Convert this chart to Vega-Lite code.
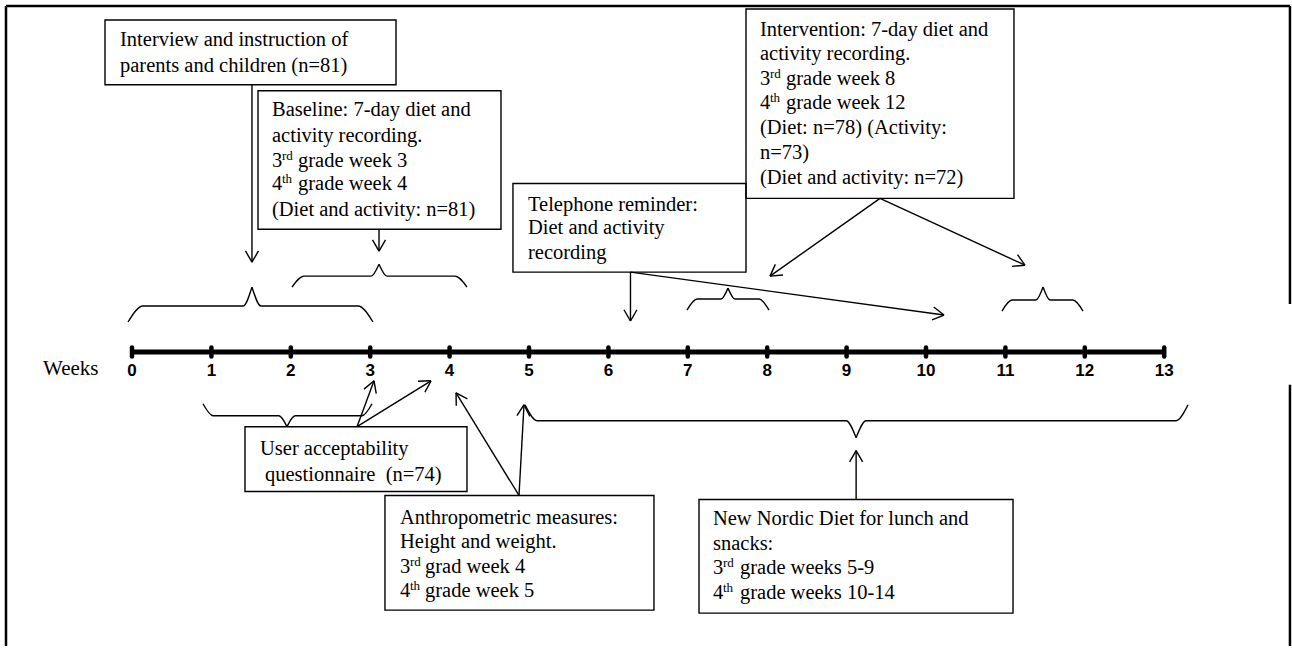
{
  "$schema": "https://vega.github.io/schema/vega-lite/v6.json",
  "width": 1292,
  "height": 648,
  "padding": 0,
  "autosize": {"type": "fit", "contains": "padding"},
  "background": "white",
  "config": {"view": {"stroke": null}},
  "datasets": {
    "boxes": [
      {"name": "interview", "x": -0.340, "x2": 3.325, "y": 20, "y2": 85},
      {"name": "baseline", "x": 1.587, "x2": 4.647, "y": 91, "y2": 230},
      {"name": "telephone", "x": 4.798, "x2": 7.733, "y": 184, "y2": 273},
      {"name": "intervention", "x": 7.733, "x2": 11.108, "y": 9, "y2": 199},
      {"name": "user", "x": 1.423, "x2": 4.219, "y": 428, "y2": 493},
      {"name": "anthropometric", "x": 3.186, "x2": 6.574, "y": 497, "y2": 612},
      {"name": "nordic", "x": 7.141, "x2": 11.096, "y": 501, "y2": 615}
    ],
    "texts": [
      {"x": -0.151, "y": 40, "t": "Interview and instruction of"},
      {"x": -0.151, "y": 66, "t": "parents and children (n=81)"},
      {"x": 1.763, "y": 110.5, "t": "Baseline: 7-day diet and"},
      {"x": 1.763, "y": 136, "t": "activity recording."},
      {"x": 1.763, "y": 161, "t": "3"},
      {"x": 2.091, "y": 161, "t": "grade week 3"},
      {"x": 1.763, "y": 185, "t": "4"},
      {"x": 2.091, "y": 185, "t": "grade week 4"},
      {"x": 1.763, "y": 210.5, "t": "(Diet and activity: n=81)"},
      {"x": 4.987, "y": 206, "t": "Telephone reminder:"},
      {"x": 4.987, "y": 229, "t": "Diet and activity"},
      {"x": 4.987, "y": 254, "t": "recording"},
      {"x": 7.909, "y": 30, "t": "Intervention: 7-day diet and"},
      {"x": 7.909, "y": 54, "t": "activity recording."},
      {"x": 7.909, "y": 79, "t": "3"},
      {"x": 8.237, "y": 79, "t": "grade week 8"},
      {"x": 7.909, "y": 103, "t": "4"},
      {"x": 8.237, "y": 103, "t": "grade week 12"},
      {"x": 7.909, "y": 128, "t": "(Diet: n=78) (Activity:"},
      {"x": 7.909, "y": 153, "t": "n=73)"},
      {"x": 7.909, "y": 179, "t": "(Diet and activity: n=72)"},
      {"x": 1.612, "y": 450, "t": "User acceptability"},
      {"x": 1.675, "y": 476, "t": "questionnaire\u00a0\u00a0(n=74)"},
      {"x": 3.375, "y": 520, "t": "Anthropometric measures:"},
      {"x": 3.375, "y": 544, "t": "Height and weight."},
      {"x": 3.375, "y": 568.5, "t": "3"},
      {"x": 3.690, "y": 568.5, "t": "grad week 4"},
      {"x": 3.375, "y": 592.5, "t": "4"},
      {"x": 3.690, "y": 592.5, "t": "grade week 5"},
      {"x": 7.317, "y": 520.5, "t": "New Nordic Diet for lunch and"},
      {"x": 7.317, "y": 545.5, "t": "snacks:"},
      {"x": 7.317, "y": 570, "t": "3"},
      {"x": 7.657, "y": 570, "t": "grade weeks 5-9"},
      {"x": 7.317, "y": 595, "t": "4"},
      {"x": 7.657, "y": 595, "t": "grade weeks 10-14"}
    ],
    "sups": [
      {"x": 1.889, "y": 156, "t": "rd"},
      {"x": 1.889, "y": 180, "t": "th"},
      {"x": 8.035, "y": 74, "t": "rd"},
      {"x": 8.035, "y": 98, "t": "th"},
      {"x": 3.501, "y": 563.5, "t": "rd"},
      {"x": 3.501, "y": 587.5, "t": "th"},
      {"x": 7.443, "y": 565, "t": "rd"},
      {"x": 7.443, "y": 590, "t": "th"}
    ],
    "segs": [
      {"x": 1.511, "y": 85, "x2": 1.511, "y2": 263},
      {"x": 1.593, "y": 251.7, "x2": 1.511, "y2": 263},
      {"x": 1.429, "y": 251.7, "x2": 1.511, "y2": 263},
      {"x": 3.111, "y": 230, "x2": 3.111, "y2": 252},
      {"x": 3.193, "y": 240.7, "x2": 3.111, "y2": 252},
      {"x": 3.029, "y": 240.7, "x2": 3.111, "y2": 252},
      {"x": 6.278, "y": 273, "x2": 6.278, "y2": 322},
      {"x": 6.360, "y": 310.7, "x2": 6.278, "y2": 322},
      {"x": 6.196, "y": 310.7, "x2": 6.278, "y2": 322},
      {"x": 6.278, "y": 273, "x2": 10.227, "y2": 316},
      {"x": 10.097, "y": 308.0, "x2": 10.227, "y2": 316},
      {"x": 10.076, "y": 320.9, "x2": 10.227, "y2": 316},
      {"x": 9.421, "y": 199, "x2": 8.035, "y2": 277},
      {"x": 8.198, "y": 275.8, "x2": 8.035, "y2": 277},
      {"x": 8.103, "y": 265.2, "x2": 8.035, "y2": 277},
      {"x": 9.421, "y": 199, "x2": 11.247, "y2": 266},
      {"x": 11.152, "y": 255.4, "x2": 11.247, "y2": 266},
      {"x": 11.083, "y": 267.2, "x2": 11.247, "y2": 266},
      {"x": 2.834, "y": 428, "x2": 3.048, "y2": 382},
      {"x": 2.922, "y": 390.3, "x2": 3.048, "y2": 382},
      {"x": 3.076, "y": 394.8, "x2": 3.048, "y2": 382},
      {"x": 2.834, "y": 428, "x2": 3.766, "y2": 382},
      {"x": 3.602, "y": 382.4, "x2": 3.766, "y2": 382},
      {"x": 3.689, "y": 393.5, "x2": 3.766, "y2": 382},
      {"x": 4.874, "y": 497, "x2": 4.081, "y2": 394},
      {"x": 4.084, "y": 407.0, "x2": 4.081, "y2": 394},
      {"x": 4.224, "y": 400.2, "x2": 4.081, "y2": 394},
      {"x": 4.874, "y": 497, "x2": 4.937, "y2": 406},
      {"x": 4.848, "y": 416.9, "x2": 4.937, "y2": 406},
      {"x": 5.011, "y": 417.6, "x2": 4.937, "y2": 406},
      {"x": 9.12, "y": 501, "x2": 9.12, "y2": 452},
      {"x": 9.038, "y": 463.3, "x2": 9.12, "y2": 452},
      {"x": 9.202, "y": 463.3, "x2": 9.12, "y2": 452}
    ],
    "frame": [
      {"x": -1.587, "y": 6, "x2": 14.584, "y2": 6},
      {"x": -1.587, "y": 6, "x2": -1.587, "y2": 648},
      {"x": 14.584, "y": 6, "x2": 14.584, "y2": 305},
      {"x": 14.584, "y": 386, "x2": 14.584, "y2": 648}
    ],
    "braces": [
      {"id": "A1", "x": 2.015, "y": 288}, {"id": "A1", "x": 2.166, "y": 277}, {"id": "A1", "x": 3.010, "y": 277}, {"id": "A1", "x": 3.111, "y": 265},
      {"id": "A2", "x": 3.111, "y": 265}, {"id": "A2", "x": 3.212, "y": 277}, {"id": "A2", "x": 4.068, "y": 277}, {"id": "A2", "x": 4.219, "y": 288},
      {"id": "B1", "x": -0.050, "y": 323}, {"id": "B1", "x": 0.139, "y": 307}, {"id": "B1", "x": 1.398, "y": 307}, {"id": "B1", "x": 1.511, "y": 288},
      {"id": "B2", "x": 1.511, "y": 288}, {"id": "B2", "x": 1.625, "y": 307}, {"id": "B2", "x": 2.846, "y": 307}, {"id": "B2", "x": 3.035, "y": 323},
      {"id": "C1", "x": 6.990, "y": 311}, {"id": "C1", "x": 7.116, "y": 300}, {"id": "C1", "x": 7.418, "y": 300}, {"id": "C1", "x": 7.506, "y": 289},
      {"id": "C2", "x": 7.506, "y": 289}, {"id": "C2", "x": 7.594, "y": 300}, {"id": "C2", "x": 7.897, "y": 300}, {"id": "C2", "x": 8.023, "y": 311},
      {"id": "D1", "x": 10.957, "y": 312}, {"id": "D1", "x": 11.083, "y": 301}, {"id": "D1", "x": 11.385, "y": 301}, {"id": "D1", "x": 11.474, "y": 288},
      {"id": "D2", "x": 11.474, "y": 288}, {"id": "D2", "x": 11.562, "y": 301}, {"id": "D2", "x": 11.851, "y": 301}, {"id": "D2", "x": 11.977, "y": 312},
      {"id": "E1", "x": 0.894, "y": 405}, {"id": "E1", "x": 1.020, "y": 417}, {"id": "E1", "x": 1.851, "y": 417}, {"id": "E1", "x": 1.952, "y": 428},
      {"id": "E2", "x": 1.952, "y": 428}, {"id": "E2", "x": 2.053, "y": 417}, {"id": "E2", "x": 2.897, "y": 417}, {"id": "E2", "x": 3.023, "y": 405},
      {"id": "F1", "x": 4.950, "y": 406}, {"id": "F1", "x": 5.101, "y": 422}, {"id": "F1", "x": 8.994, "y": 422}, {"id": "F1", "x": 9.12, "y": 439},
      {"id": "F2", "x": 9.12, "y": 439}, {"id": "F2", "x": 9.246, "y": 422}, {"id": "F2", "x": 13.149, "y": 422}, {"id": "F2", "x": 13.300, "y": 406}
    ],
    "timeline": [
      {"from": 0, "to": 13, "level": 353}
    ],
    "weeks": [
      {"week": 0, "tickTop": 348.5, "tickBottom": 357.5, "labelY": 372},
      {"week": 1, "tickTop": 348.5, "tickBottom": 357.5, "labelY": 372},
      {"week": 2, "tickTop": 348.5, "tickBottom": 357.5, "labelY": 372},
      {"week": 3, "tickTop": 348.5, "tickBottom": 357.5, "labelY": 372},
      {"week": 4, "tickTop": 348.5, "tickBottom": 357.5, "labelY": 372},
      {"week": 5, "tickTop": 348.5, "tickBottom": 357.5, "labelY": 372},
      {"week": 6, "tickTop": 348.5, "tickBottom": 357.5, "labelY": 372},
      {"week": 7, "tickTop": 348.5, "tickBottom": 357.5, "labelY": 372},
      {"week": 8, "tickTop": 348.5, "tickBottom": 357.5, "labelY": 372},
      {"week": 9, "tickTop": 348.5, "tickBottom": 357.5, "labelY": 372},
      {"week": 10, "tickTop": 348.5, "tickBottom": 357.5, "labelY": 372},
      {"week": 11, "tickTop": 348.5, "tickBottom": 357.5, "labelY": 372},
      {"week": 12, "tickTop": 348.5, "tickBottom": 357.5, "labelY": 372},
      {"week": 13, "tickTop": 348.5, "tickBottom": 357.5, "labelY": 372}
    ]
  },
  "layer": [
    {
      "data": {"name": "frame"},
      "mark": {"type": "rule", "color": "black", "strokeWidth": 2.5},
      "encoding": {
        "x": {"field": "x", "type": "quantitative", "scale": {"domain": [-1.6625, 14.6096], "nice": false, "zero": false}, "axis": null},
        "y": {"field": "y", "type": "quantitative", "scale": {"domain": [0, 648], "reverse": true, "nice": false, "zero": false}, "axis": null},
        "x2": {"field": "x2"}, "y2": {"field": "y2"}
      }
    },
    {
      "data": {"name": "boxes"},
      "mark": {"type": "rect", "fill": "white", "fillOpacity": 0, "stroke": "black", "strokeWidth": 1.4},
      "encoding": {
        "x": {"field": "x", "type": "quantitative", "scale": {"domain": [-1.6625, 14.6096], "nice": false, "zero": false}, "axis": null},
        "y": {"field": "y", "type": "quantitative", "scale": {"domain": [0, 648], "reverse": true, "nice": false, "zero": false}, "axis": null},
        "x2": {"field": "x2"}, "y2": {"field": "y2"}
      }
    },
    {
      "data": {"name": "segs"},
      "mark": {"type": "rule", "color": "black", "strokeWidth": 1.4},
      "encoding": {
        "x": {"field": "x", "type": "quantitative", "scale": {"domain": [-1.6625, 14.6096], "nice": false, "zero": false}, "axis": null},
        "y": {"field": "y", "type": "quantitative", "scale": {"domain": [0, 648], "reverse": true, "nice": false, "zero": false}, "axis": null},
        "x2": {"field": "x2"}, "y2": {"field": "y2"}
      }
    },
    {
      "data": {"name": "braces"},
      "mark": {"type": "line", "interpolate": "monotone", "color": "black", "strokeWidth": 1.4},
      "encoding": {
        "x": {"field": "x", "type": "quantitative", "scale": {"domain": [-1.6625, 14.6096], "nice": false, "zero": false}, "axis": null},
        "y": {"field": "y", "type": "quantitative", "scale": {"domain": [0, 648], "reverse": true, "nice": false, "zero": false}, "axis": null},
        "detail": {"field": "id"}
      }
    },
    {
      "data": {"name": "timeline"},
      "mark": {"type": "rule", "color": "black", "strokeWidth": 5},
      "encoding": {
        "x": {"field": "from", "type": "quantitative", "scale": {"domain": [-1.6625, 14.6096], "nice": false, "zero": false}, "axis": null},
        "x2": {"field": "to"},
        "y": {"field": "level", "type": "quantitative", "scale": {"domain": [0, 648], "reverse": true, "nice": false, "zero": false}, "axis": null}
      }
    },
    {
      "data": {"name": "weeks"},
      "mark": {"type": "rule", "color": "black", "strokeWidth": 4.5, "strokeCap": "round"},
      "encoding": {
        "x": {"field": "week", "type": "quantitative", "scale": {"domain": [-1.6625, 14.6096], "nice": false, "zero": false}, "axis": null},
        "y": {"field": "tickTop", "type": "quantitative", "scale": {"domain": [0, 648], "reverse": true, "nice": false, "zero": false}, "axis": null},
        "y2": {"field": "tickBottom"}
      }
    },
    {
      "data": {"name": "weeks"},
      "mark": {"type": "text", "font": "Liberation Sans Narrow, Liberation Sans, Arial", "fontWeight": "bold", "fontSize": 17, "align": "center", "baseline": "middle", "color": "black"},
      "encoding": {
        "x": {"field": "week", "type": "quantitative", "scale": {"domain": [-1.6625, 14.6096], "nice": false, "zero": false}, "axis": null},
        "y": {"field": "labelY", "type": "quantitative", "scale": {"domain": [0, 648], "reverse": true, "nice": false, "zero": false}, "axis": null},
        "text": {"field": "week", "type": "quantitative", "format": "d"}
      }
    },
    {
      "data": {"values": [{"x": -1.121, "y": 370, "t": "Weeks"}]},
      "mark": {"type": "text", "font": "Liberation Serif", "fontSize": 21, "align": "left", "baseline": "middle", "color": "black"},
      "encoding": {
        "x": {"field": "x", "type": "quantitative", "scale": {"domain": [-1.6625, 14.6096], "nice": false, "zero": false}, "axis": null},
        "y": {"field": "y", "type": "quantitative", "scale": {"domain": [0, 648], "reverse": true, "nice": false, "zero": false}, "axis": null},
        "text": {"field": "t"}
      }
    },
    {
      "data": {"name": "texts"},
      "mark": {"type": "text", "font": "Liberation Serif", "fontSize": 20.5, "align": "left", "baseline": "middle", "color": "black"},
      "encoding": {
        "x": {"field": "x", "type": "quantitative", "scale": {"domain": [-1.6625, 14.6096], "nice": false, "zero": false}, "axis": null},
        "y": {"field": "y", "type": "quantitative", "scale": {"domain": [0, 648], "reverse": true, "nice": false, "zero": false}, "axis": null},
        "text": {"field": "t"}
      }
    },
    {
      "data": {"name": "sups"},
      "mark": {"type": "text", "font": "Liberation Serif", "fontSize": 13, "align": "left", "baseline": "middle", "color": "black"},
      "encoding": {
        "x": {"field": "x", "type": "quantitative", "scale": {"domain": [-1.6625, 14.6096], "nice": false, "zero": false}, "axis": null},
        "y": {"field": "y", "type": "quantitative", "scale": {"domain": [0, 648], "reverse": true, "nice": false, "zero": false}, "axis": null},
        "text": {"field": "t"}
      }
    }
  ]
}
